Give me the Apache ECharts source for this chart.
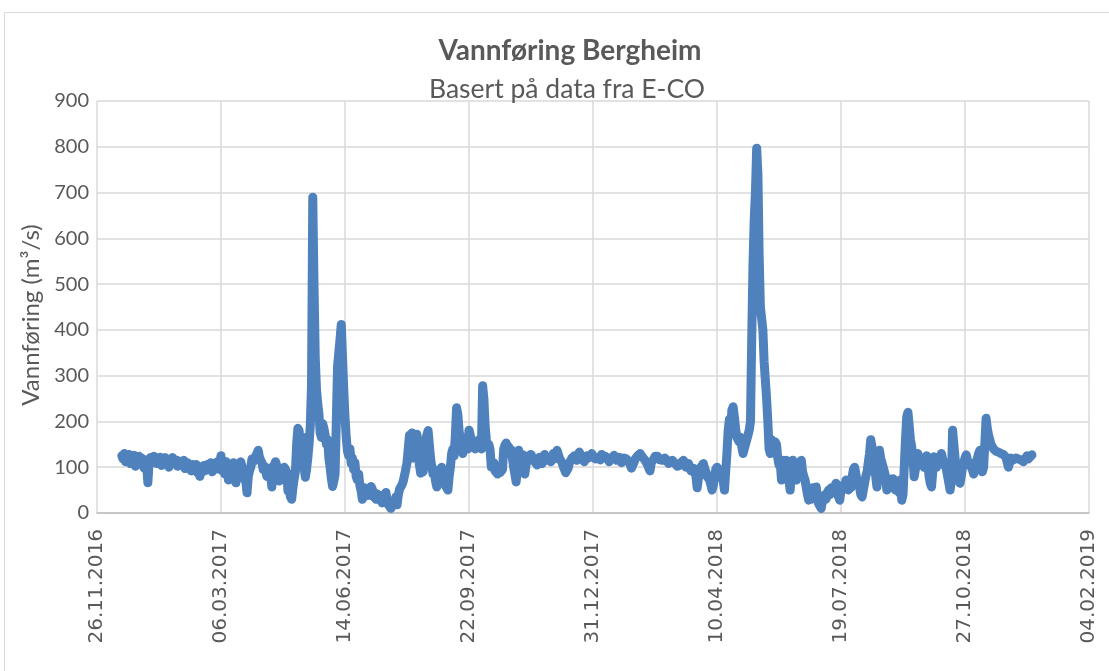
<!DOCTYPE html>
<html>
<head>
<meta charset="utf-8">
<script src="https://cdn.jsdelivr.net/npm/echarts@6/dist/echarts.min.js"></script>
<style>
  html, body { margin: 0; padding: 0; background: #ffffff; }
  #chart { width: 1109px; height: 671px; }
</style>
</head>
<body>
<div id="chart"></div>
<script>
// Daily discharge at Bergheim (m3/s). Each array starts on the given date.
const start2016 = '2016-12-16';
const flow2016 = [125,118,130,112,120,124,128,108,120,115,126,102,118,122,124,112];

const start2017 = '2017-01-01';
const flow2017 = [
  120,120,98,116,110,66,110,121,118,114,
  124,116,108,119,112,122,104,117,120,121,
  112,106,100,117,119,121,108,112,116,102,
  108,113,106,110,115,97,104,110,104,98,
  92,106,98,102,106,88,95,80,98,100,
  104,92,100,106,96,102,110,90,98,104,
  108,112,96,110,125,92,108,85,112,95,
  72,100,90,80,110,95,66,98,92,88,
  112,100,75,95,70,44,80,92,100,118,
  112,108,125,130,137,122,115,110,95,102,
  106,80,92,98,85,57,90,105,112,108,
  95,70,92,85,80,100,95,90,48,62,
  35,30,55,75,90,150,185,180,140,120,
  165,100,78,95,120,150,190,280,690,500,
  340,270,240,215,175,165,195,185,170,150,
  160,120,100,75,58,70,85,200,320,350,
  380,412,340,270,210,165,135,125,140,108,
  120,95,110,80,72,85,60,48,30,40,
  55,45,38,45,50,58,52,35,40,30,
  42,35,28,38,22,26,30,45,25,18,
  22,10,15,28,20,35,18,40,52,48,
  62,70,72,95,110,140,170,160,175,120,
  150,165,172,140,105,87,95,90,120,160,
  170,180,150,120,100,85,95,70,57,80,
  65,95,100,88,70,60,55,50,80,100,
  130,140,125,170,230,215,180,160,140,130,
  145,150,165,140,181,170,155,145,150,140,
  155,145,160,150,140,278,250,190,160,145,
  150,138,100,96,110,92,88,85,100,88,
  92,95,140,148,153,140,145,130,138,120,
  100,85,68,95,137,120,100,128,90,85,
  105,115,125,120,128,122,118,112,110,105,
  115,122,115,108,118,128,115,118,120,116,
  112,120,130,118,125,137,128,120,115,110,
  102,95,88,85,98,110,115,120,122,125,
  120,115,124,133,126,120,116,112,118,125,
  120,118,124,130,122
];

const start2018 = '2018-01-01';
const flow2018 = [
  125,118,115,122,120,116,128,122,118,124,
  125,118,112,116,120,124,126,120,115,118,
  122,116,110,115,120,124,118,122,112,108,
  98,96,110,118,122,125,128,130,126,122,
  118,115,110,105,98,92,110,114,118,124,
  128,124,120,116,112,115,118,120,115,112,
  108,114,118,115,112,108,105,102,98,104,
  110,112,115,108,100,104,108,100,92,96,
  98,90,80,55,75,92,100,104,108,98,
  90,80,76,72,62,50,60,80,95,100,
  102,92,80,75,70,50,90,130,180,205,
  180,225,232,210,185,165,160,155,165,145,
  130,140,150,160,170,181,200,380,540,640,
  700,797,740,560,450,425,400,330,290,250,
  200,140,130,160,150,140,155,150,120,105,
  110,72,90,115,100,115,95,72,50,85,
  115,100,90,72,100,108,110,115,90,80,
  72,55,40,28,45,30,55,50,45,57,
  35,20,15,10,25,35,40,30,45,50,
  40,55,50,48,60,65,45,35,28,50,
  60,58,55,72,65,50,60,55,80,95,
  100,85,70,60,55,40,35,50,65,80,
  90,110,130,160,145,120,100,80,57,90,
  137,120,110,100,90,79,50,75,60,70,
  55,75,60,50,70,55,44,72,28,40,
  100,160,210,220,190,160,145,120,79,95,
  120,130,115,110,120,110,100,120,125,110,
  80,65,57,90,123,115,100,118,110,122,
  130,118,105,110,95,80,65,50,70,181,
  150,120,90,79,70,65,80,100,110,120,
  127,115,105,110,100,94,85,100,110,120,
  130,137,110,90,100,150,207,185,170,160,
  150,145,140,138,135,136,133,132,130,131,
  128,125,122,118,100,110,120,118,116,115,
  120,123,118,120,116,118,112,115,120,125,
  118,120,124,127
];

// Date axis in spreadsheet day numbers (26.11.2016 = 42700), ticks every 100 days
const axisMinDay = 42700;
const axisMaxDay = 43500;
const axisStepDays = 100;
const yTicks = { min: 0, max: 900, step: 100 };

const titleText = 'Vannføring Bergheim';
const subtitleText = 'Basert på data fra E-CO';
const yName = 'Vannføring (m³/s)';

const DAY_MS = 86400000;
const EPOCH_OFFSET = 25569; // day number of 1970-01-01

function isoToDay(iso) {
  const [y, m, d] = iso.split('-').map(Number);
  return Date.UTC(y, m - 1, d) / DAY_MS + EPOCH_OFFSET;
}
function dayToLabel(day) {
  const dt = new Date((day - EPOCH_OFFSET) * DAY_MS);
  const dd = String(dt.getUTCDate()).padStart(2, '0');
  const mm = String(dt.getUTCMonth() + 1).padStart(2, '0');
  return dd + '.' + mm + '.' + dt.getUTCFullYear();
}
function toPoints(startIso, values) {
  const d0 = isoToDay(startIso);
  return values.map((v, i) => [d0 + i, v]);
}

const points = []
  .concat(toPoints(start2016, flow2016))
  .concat(toPoints(start2017, flow2017))
  .concat(toPoints(start2018, flow2018));

const chart = echarts.init(document.getElementById('chart'), null, { renderer: 'canvas' });

const textColor = '#595959';
const gridColor = '#d9d9d9';

chart.setOption({
  animation: false,
  backgroundColor: '#ffffff',
  graphic: [{
    type: 'rect',
    shape: { x: 4.5, y: 12.5, width: 1200, height: 700 },
    style: { fill: 'none', stroke: gridColor, lineWidth: 1 },
    silent: true
  }],
  title: [
    {
      text: titleText,
      left: 565, top: 32, textAlign: 'center',
      textStyle: { fontFamily: 'Lato', fontWeight: 'bold', fontSize: 28, color: textColor }
    },
    {
      text: subtitleText,
      left: 562, top: 71, textAlign: 'center',
      textStyle: { fontFamily: 'Lato', fontWeight: 'normal', fontSize: 26.5, color: textColor }
    }
  ],
  grid: { left: 97, right: 20, top: 101, bottom: 158, containLabel: false },
  xAxis: {
    type: 'value',
    min: axisMinDay, max: axisMaxDay, interval: axisStepDays,
    axisLine: { show: true, lineStyle: { color: '#bfbfbf', width: 1.5 } },
    axisTick: { show: false },
    splitLine: { show: true, lineStyle: { color: gridColor, width: 1.5 } },
    axisLabel: {
      rotate: 90, margin: 16,
      color: textColor, fontFamily: 'DejaVu Sans', fontSize: 20,
      formatter: v => dayToLabel(v)
    }
  },
  yAxis: {
    type: 'value',
    min: yTicks.min, max: yTicks.max, interval: yTicks.step,
    name: yName, nameLocation: 'middle', nameRotate: 90, nameGap: 45,
    nameTextStyle: { color: textColor, fontFamily: 'Lato', fontSize: 24, padding: [0, 16, 0, 0] },
    axisLine: { show: false },
    axisTick: { show: false },
    splitLine: { show: true, lineStyle: { color: gridColor, width: 1.5 } },
    axisLabel: { color: textColor, fontFamily: 'Lato', fontSize: 20, margin: 8 }
  },
  series: [{
    type: 'line',
    data: points,
    showSymbol: false,
    lineStyle: { color: '#4f81bd', width: 9, join: 'round', cap: 'round' },
    itemStyle: { color: '#4f81bd' },
    z: 3
  }]
});
</script>
</body>
</html>
